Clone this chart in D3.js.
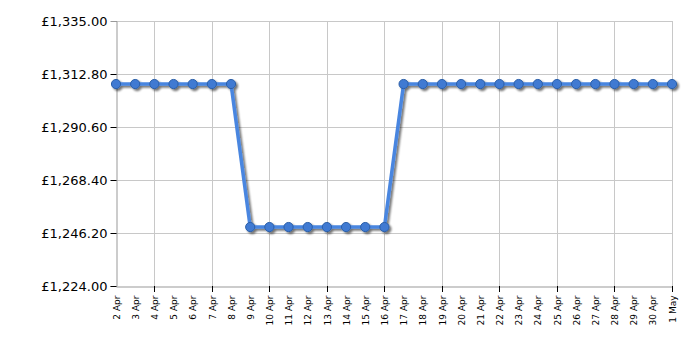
<!DOCTYPE html>
<html><head><meta charset="utf-8">
<script src="https://cdn.jsdelivr.net/npm/d3@7"></script>
<style>body{margin:0;background:#fff}svg{display:block}</style>
</head><body>
<script>
const dates = ["2 Apr","3 Apr","4 Apr","5 Apr","6 Apr","7 Apr","8 Apr","9 Apr","10 Apr","11 Apr","12 Apr","13 Apr","14 Apr","15 Apr","16 Apr","17 Apr","18 Apr","19 Apr","20 Apr","21 Apr","22 Apr","23 Apr","24 Apr","25 Apr","26 Apr","27 Apr","28 Apr","29 Apr","30 Apr","1 May"];
const prices = [1308.6,1308.6,1308.6,1308.6,1308.6,1308.6,1308.6,1248.7,1248.7,1248.7,1248.7,1248.7,1248.7,1248.7,1248.7,1308.6,1308.6,1308.6,1308.6,1308.6,1308.6,1308.6,1308.6,1308.6,1308.6,1308.6,1308.6,1308.6,1308.6,1308.6];
const yTicks = [1224,1246.2,1268.4,1290.6,1312.8,1335];
const gridDates = ["4 Apr","7 Apr","10 Apr","13 Apr","16 Apr","19 Apr","22 Apr","25 Apr","28 Apr","1 May"];

const W=700,H=350,L=116,R=672,T=21,B=286;
const svg=d3.select("body").append("svg").attr("width",W).attr("height",H);
const x=d3.scalePoint().domain(dates).range([L,R]);
const y=d3.scaleLinear().domain([1224,1335]).range([B,T]);
const fmt=v=>"£"+d3.format(",.2f")(v);

const defs=svg.append("defs");
const f=defs.append("filter").attr("id","sh").attr("x","-20%").attr("y","-20%").attr("width","140%").attr("height","140%");
f.append("feGaussianBlur").attr("in","SourceAlpha").attr("stdDeviation",1.2);
f.append("feOffset").attr("dx",2).attr("dy",2).attr("result","o");
f.append("feComponentTransfer").append("feFuncA").attr("type","linear").attr("slope",0.55);
const m=f.append("feMerge");m.append("feMergeNode");m.append("feMergeNode").attr("in","SourceGraphic");

// grid
svg.append("g").selectAll("line").data(yTicks.slice(1)).join("line")
 .attr("x1",L).attr("x2",R).attr("y1",d=>Math.round(y(d))+0.5).attr("y2",d=>Math.round(y(d))+0.5)
 .attr("stroke","#c8c8c8").attr("stroke-width",1);
svg.append("g").selectAll("line").data(gridDates).join("line")
 .attr("x1",d=>Math.round(x(d))+0.5).attr("x2",d=>Math.round(x(d))+0.5).attr("y1",T).attr("y2",B)
 .attr("stroke","#c8c8c8").attr("stroke-width",1);

// y axis
const ya=svg.append("g").attr("transform",`translate(${L+0.5},0)`)
 .call(d3.axisLeft(y).tickValues(yTicks).tickFormat(fmt).tickSize(6).tickPadding(3));
ya.select(".domain").attr("stroke","#999");
ya.selectAll(".tick line").attr("stroke","#000").attr("opacity",d=>d===1335?0:1);
ya.selectAll("text").attr("font-family","DejaVu Sans, Verdana, sans-serif").attr("font-size",13).attr("fill","#000");

// x axis
const xa=svg.append("g").attr("transform",`translate(0,${B+0.5})`)
 .call(d3.axisBottom(x).tickSize(0).tickFormat(d=>d));
xa.select(".domain").attr("stroke","#999");
xa.selectAll(".tick text").attr("font-family","DejaVu Sans, Verdana, sans-serif").attr("font-size",9).attr("fill","#000")
 .attr("text-anchor","end").attr("transform","rotate(-90)").attr("x",-9).attr("y",0).attr("dy","0.35em");
svg.append("g").selectAll("line").data(gridDates).join("line")
 .attr("x1",d=>Math.round(x(d))+0.5).attr("x2",d=>Math.round(x(d))+0.5).attr("y1",B).attr("y2",B+6)
 .attr("stroke","#000");

// line
const g=svg.append("g").attr("filter","url(#sh)");
const line=d3.line().x((d,i)=>x(dates[i])).y(d=>y(d));
g.append("path").datum(prices).attr("d",line).attr("fill","none").attr("stroke","#4a86e0").attr("stroke-width",3.5).attr("stroke-linejoin","round");
g.selectAll("circle").data(prices).join("circle")
 .attr("cx",(d,i)=>x(dates[i])).attr("cy",d=>y(d)).attr("r",4.6)
 .attr("fill","#3f7ad2").attr("stroke","#2c5fa8").attr("stroke-width",1);
</script>
</body></html>
